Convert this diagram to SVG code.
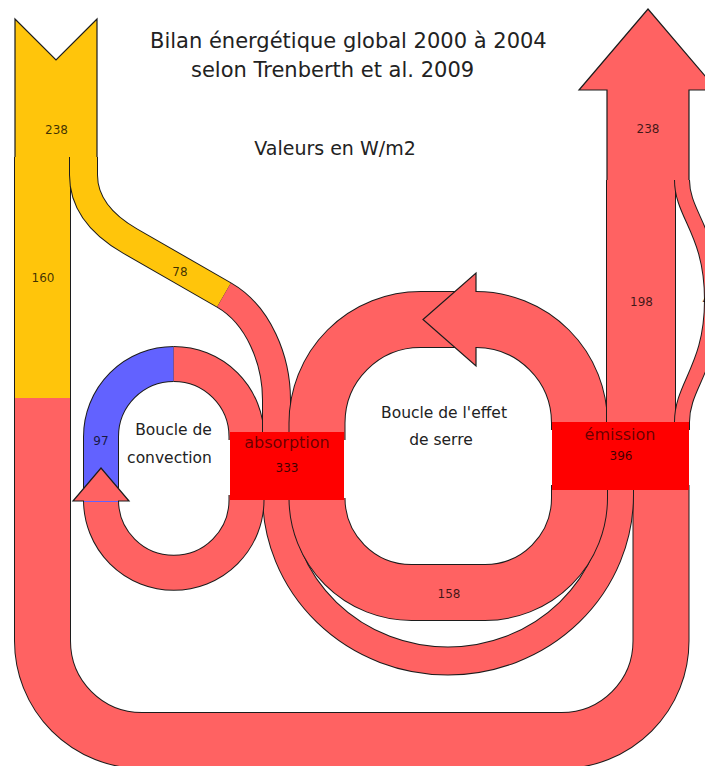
<svg xmlns="http://www.w3.org/2000/svg" xmlns:xlink="http://www.w3.org/1999/xlink" width="705" height="766" viewBox="0 0 705 766">
<style>
 .o{fill:none;stroke:#1c1c1c}
 .y{fill:none;stroke:#FFC50B}
 .p{fill:none;stroke:#FF6262}
 .b{fill:none;stroke:#6262FF}
 .sh{stroke:#1c1c1c;stroke-width:1.2}
 .fy{fill:#FFC50B}
 .fp{fill:#FF6262}
 .t{font-family:"DejaVu Sans",Verdana,sans-serif;fill:#222}
 .n{font-family:"DejaVu Sans",Verdana,sans-serif;font-size:12px;fill:#000;fill-opacity:.75;text-anchor:middle}
 .bl{font-family:"DejaVu Sans",Verdana,sans-serif;font-size:16px;fill:#000;fill-opacity:.6;text-anchor:middle}
 .bx{fill:#FF0000}
</style>
<defs>
 <path id="p160y" d="M 42.5 157 L 42.5 398"/>
 <path id="p160p" d="M 42.5 398 L 42.5 641 A 99.5 99.5 0 0 0 142 740.5 L 561.5 740.5 A 99.5 99.5 0 0 0 661 641 L 661 485"/>
 <path id="p78y" d="M 83.5 157 L 83.5 175 C 83.5 205 104 226 130 241 L 224 295"/>
 <path id="p78p" d="M 224 295 C 258.7 315 276.5 360 276.5 400 L 276.5 440"/>
 <path id="p78a" d="M 276.5 495 A 171.5 166 0 0 0 619.5 495 L 619.5 485"/>
 <path id="p158a" d="M 317 498 A 94.5 94.5 0 0 0 411.5 592.5 L 485 592.5 A 94.5 94.5 0 0 0 579.5 498 L 579.5 485"/>
 <path id="pcr" d="M 246.5 495 L 246.5 500 A 72.75 72.75 0 0 1 101 500 L 101 502"/>
 <path id="pcb" d="M 101 502 L 101 436.75 A 72.75 72.75 0 0 1 173.75 364"/>
 <path id="pcp" d="M 173.75 364 A 72.75 72.75 0 0 1 246.5 436.75 L 246.5 440"/>
 <path id="pgl" d="M 317 440 L 317 423 A 103.5 103.5 0 0 1 420.5 319.5 L 476 319.5"/>
 <path id="pgr" d="M 579.5 430 L 579.5 423 A 103.5 103.5 0 0 0 476 319.5"/>
 <path id="p198" d="M 641 180 L 641 430"/>
 <path id="p40" d="M 682 180 C 682 215 712 232 712 300 C 712 368 682 385 682 422 L 682 430"/>
</defs>

<g id="connectors">
 <!-- solar input -->
 <path class="fy sh" d="M 15 165 L 15 19 L 56 60 L 97 19 L 97 165"/>
 <!-- 160 surface loop -->
 <use xlink:href="#p160y" class="o" stroke-width="57"/>
 <use xlink:href="#p160y" class="y" stroke-width="55"/>
 <use xlink:href="#p160p" class="o" stroke-width="57"/>
 <use xlink:href="#p160p" class="p" stroke-width="55"/>
 <!-- 78 lower outer arc -->
 <use xlink:href="#p78a" class="o" stroke-width="29"/>
 <use xlink:href="#p78a" class="p" stroke-width="27"/>
 <!-- 158 lower inner arc -->
 <use xlink:href="#p158a" class="o" stroke-width="57"/>
 <use xlink:href="#p158a" class="p" stroke-width="55"/>
 <!-- convection loop -->
 <use xlink:href="#pcr" class="o" stroke-width="36"/>
 <use xlink:href="#pcr" class="p" stroke-width="34"/>
 <use xlink:href="#pcb" class="o" stroke-width="36"/>
 <use xlink:href="#pcb" class="b" stroke-width="34"/>
 <use xlink:href="#pcp" class="o" stroke-width="36"/>
 <use xlink:href="#pcp" class="p" stroke-width="34"/>
 <path class="fp sh" d="M 84 501 L 73 501 L 101 468 L 129 501 L 118 501"/>
 <!-- 78 solar absorbed by atmosphere -->
 <use xlink:href="#p78y" class="o" stroke-width="29"/>
 <use xlink:href="#p78y" class="y" stroke-width="27"/>
 <use xlink:href="#p78p" class="o" stroke-width="29"/>
 <use xlink:href="#p78p" class="p" stroke-width="27"/>
 <!-- greenhouse loop -->
 <use xlink:href="#pgl" class="o" stroke-width="57"/>
 <use xlink:href="#pgl" class="p" stroke-width="55"/>
 <use xlink:href="#pgr" class="o" stroke-width="57"/>
 <use xlink:href="#pgr" class="p" stroke-width="55"/>
 <path class="fp sh" d="M 476 292 L 476 273 L 423 319.5 L 476 366 L 476 347"/>
 <!-- outgoing -->
 <path class="fp sh" d="M 607 186 L 607 90 L 579 90 L 648 9 L 717 90 L 689 90 L 689 186"/>
 <use xlink:href="#p198" class="o" stroke-width="70"/>
 <use xlink:href="#p198" class="p" stroke-width="68"/>
 <use xlink:href="#p40" class="o" stroke-width="16"/>
 <use xlink:href="#p40" class="p" stroke-width="14"/>
</g>

<g id="absorption">
 <rect class="bx" x="230" y="432" width="114" height="68"/>
 <text class="bl" x="287" y="448">absorption</text>
 <text class="n" x="287" y="472">333</text>
</g>
<g id="emission">
 <rect class="bx" x="552" y="422" width="137" height="68"/>
 <text class="bl" x="620" y="440">émission</text>
 <text class="n" x="621" y="460">396</text>
</g>

<g id="labels">
 <text class="n" x="56.5" y="134">238</text>
 <text class="n" x="43" y="282">160</text>
 <text class="n" x="180" y="276">78</text>
 <text class="n" x="101" y="445">97</text>
 <text class="n" x="648" y="133">238</text>
 <text class="n" x="641.5" y="306">198</text>
 <text class="n" x="710" y="304">40</text>
 <text class="n" x="449" y="598">158</text>
</g>

<g id="title">
 <text class="t" x="150" y="48" font-size="21">Bilan énergétique global 2000 à 2004</text>
 <text class="t" x="191" y="77" font-size="21">selon Trenberth et al. 2009</text>
 <text class="t" x="335" y="155" font-size="19" text-anchor="middle">Valeurs en W/m2</text>
</g>
<g id="loop-convection">
 <text class="t" x="173.5" y="435" font-size="15.5" text-anchor="middle">Boucle de</text>
 <text class="t" x="169.5" y="463" font-size="15.5" text-anchor="middle">convection</text>
</g>
<g id="loop-serre">
 <text class="t" x="444" y="418" font-size="15.5" text-anchor="middle">Boucle de l'effet</text>
 <text class="t" x="441" y="445" font-size="15.5" text-anchor="middle">de serre</text>
</g>
</svg>
